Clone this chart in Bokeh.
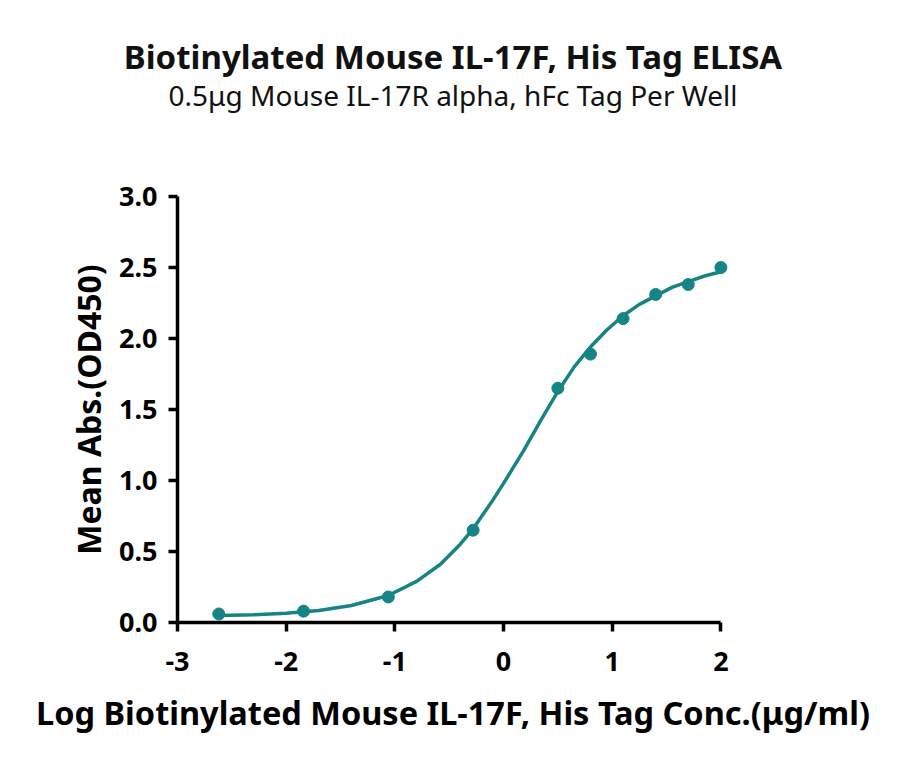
from bokeh.plotting import figure
from bokeh.models import Range1d, FixedTicker, NumeralTickFormatter, Title
from bokeh.embed import file_html
from bokeh.resources import INLINE

# measured points (log conc, mean OD450)
log_conc = [-2.62, -1.84, -1.06, -0.28, 0.50, 0.80, 1.10, 1.40, 1.70, 2.00]
mean_abs = [0.06, 0.08, 0.18, 0.65, 1.65, 1.89, 2.14, 2.31, 2.38, 2.50]

# fitted curve
fit_x = [-2.62, -2.3, -2.0, -1.7, -1.4, -1.06, -0.8, -0.58, -0.40, -0.28, -0.1, 0.0,
         0.185, 0.34, 0.495, 0.65, 0.80, 0.95, 1.10, 1.25, 1.40, 1.55, 1.70, 1.85, 2.00]
fit_y = [0.05, 0.055, 0.065, 0.085, 0.12, 0.19, 0.29, 0.41, 0.55, 0.66, 0.86, 0.98,
         1.21, 1.42, 1.62, 1.80, 1.94, 2.06, 2.16, 2.24, 2.30, 2.36, 2.40, 2.44, 2.47]

x_ticks = [-3, -2, -1, 0, 1, 2]
x_tick_labels = ["-3", "-2", "-1", "0", "1", "2"]
y_ticks = [0, 0.5, 1.0, 1.5, 2.0, 2.5, 3.0]

TEAL = "#168384"
FONT = "Noto Sans"

# x range runs a little past 2 so the last marker is not clipped;
# the axis itself stops at 2 via bounds
p = figure(width=884, height=747,
           x_range=Range1d(-3, 2.07), y_range=Range1d(0, 3),
           output_backend="svg", toolbar_location=None, tools="",
           frame_width=551, frame_height=426,
           min_border_left=177, min_border_right=156,
           min_border_top=196, min_border_bottom=125)

p.line(fit_x, fit_y, line_color=TEAL, line_width=3.5)
p.scatter(log_conc, mean_abs, size=12, fill_color=TEAL, line_color=TEAL)

# titles: spacer nearest the frame, then subtitle, then main title
spacer = Title(text=" ", text_font=FONT, text_font_size="10px", standoff=66)
sub = Title(text="0.5μg Mouse IL-17R alpha, hFc Tag Per Well", align="center",
            text_font=FONT, text_font_size="28px", text_font_style="normal",
            text_color="#111111", standoff=2)
main = Title(text="Biotinylated Mouse IL-17F, His Tag ELISA", align="center",
             text_font=FONT, text_font_size="33px", text_font_style="bold",
             text_color="#111111", standoff=-13)
p.add_layout(spacer, "above")
p.add_layout(sub, "above")
p.add_layout(main, "above")

p.grid.visible = False
p.outline_line_color = None
p.background_fill_color = "white"
p.border_fill_color = "white"

for ax in (p.xaxis[0], p.yaxis[0]):
    ax.axis_line_width = 3.5
    ax.axis_line_color = "black"
    ax.major_tick_line_width = 3.5
    ax.major_tick_line_color = "black"
    ax.major_tick_out = 9
    ax.major_tick_in = 0
    ax.minor_tick_line_color = None
    ax.major_label_text_font = FONT
    ax.major_label_text_font_style = "bold"
    ax.major_label_text_font_size = "27px"
    ax.major_label_text_color = "black"
    ax.axis_label_text_font = FONT
    ax.axis_label_text_font_style = "bold"
    ax.axis_label_text_color = "black"

p.xaxis.bounds = (-3, 2)
p.xaxis.ticker = FixedTicker(ticks=x_ticks)
p.xaxis.major_label_overrides = dict(zip(x_ticks, x_tick_labels))
p.yaxis.ticker = FixedTicker(ticks=y_ticks)
p.yaxis.formatter = NumeralTickFormatter(format="0.0")
p.xaxis.major_label_standoff = 20
p.yaxis.major_label_standoff = 11
p.xaxis.axis_label = "Log Biotinylated Mouse IL-17F, His Tag Conc.(μg/ml)"
p.yaxis.axis_label = "Mean Abs.(OD450)"
p.xaxis.axis_label_text_font_size = "32.5px"
p.yaxis.axis_label_text_font_size = "32px"
p.xaxis.axis_label_standoff = 16
p.yaxis.axis_label_standoff = 6

open("out.html", "w").write(file_html(p, INLINE))
